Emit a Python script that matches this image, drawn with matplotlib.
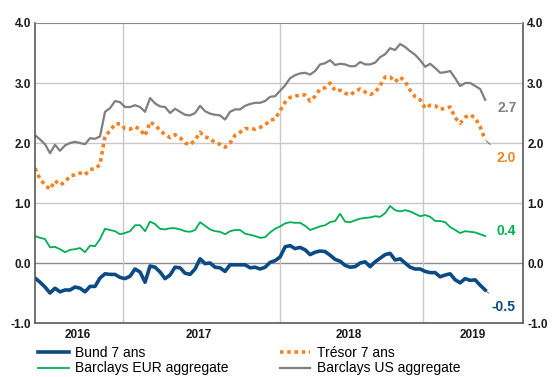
import numpy as np
import pandas as pd
import matplotlib
matplotlib.use("Agg")
import matplotlib.pyplot as plt

plt.rcParams['font.family'] = ['Liberation Sans', 'DejaVu Sans']

# two-weekly observations, Sept 2015 -> Feb 2019
dates = pd.date_range("2015-09-01", periods=91, freq="14D")

bund_7y = [-0.25, -0.32, -0.40, -0.50, -0.42, -0.48, -0.45, -0.45, -0.40, -0.42,
           -0.48, -0.39, -0.39, -0.25, -0.18, -0.19, -0.19, -0.24, -0.26, -0.22,
           -0.10, -0.15, -0.32, -0.05, -0.07, -0.15, -0.26, -0.20, -0.07, -0.08,
           -0.17, -0.19, -0.10, 0.07, -0.01, 0.00, -0.07, -0.08, -0.14, -0.03,
           -0.03, -0.03, -0.03, -0.08, -0.07, -0.10, -0.07, 0.01, 0.04, 0.10,
           0.27, 0.29, 0.24, 0.26, 0.22, 0.14, 0.18, 0.20, 0.19, 0.13,
           0.06, 0.03, -0.04, -0.07, -0.06, 0.00, 0.02, -0.06, 0.02, 0.08,
           0.14, 0.16, 0.05, 0.07, 0.00, -0.07, -0.10, -0.10, -0.14, -0.16,
           -0.16, -0.23, -0.20, -0.18, -0.28, -0.33, -0.26, -0.29, -0.28, -0.37,
           -0.45]

tresor_7y = [1.58, 1.40, 1.30, 1.23, 1.37, 1.30, 1.35, 1.45, 1.47, 1.50,
             1.47, 1.56, 1.57, 1.64, 2.12, 2.20, 2.32, 2.32, 2.24, 2.23,
             2.27, 2.23, 2.12, 2.35, 2.30, 2.21, 2.14, 2.09, 2.14, 2.09,
             2.00, 1.97, 2.05, 2.18, 2.10, 2.08, 2.00, 1.98, 1.93, 2.00,
             2.13, 2.18, 2.24, 2.24, 2.23, 2.26, 2.30, 2.38, 2.40, 2.54,
             2.68, 2.76, 2.78, 2.80, 2.80, 2.70, 2.78, 2.90, 2.92, 3.00,
             2.87, 2.88, 2.83, 2.80, 2.86, 2.90, 2.85, 2.81, 2.84, 2.96,
             3.10, 3.10, 3.02, 3.10, 3.02, 2.88, 2.77, 2.72, 2.58, 2.63,
             2.62, 2.56, 2.58, 2.60, 2.42, 2.33, 2.43, 2.47, 2.42, 2.27,
             2.05]

eur_agg = [0.45, 0.42, 0.40, 0.26, 0.27, 0.23, 0.18, 0.22, 0.23, 0.25,
           0.18, 0.29, 0.28, 0.40, 0.57, 0.55, 0.53, 0.48, 0.50, 0.53,
           0.63, 0.63, 0.53, 0.69, 0.65, 0.57, 0.56, 0.58, 0.58, 0.56,
           0.53, 0.52, 0.55, 0.68, 0.62, 0.56, 0.53, 0.52, 0.48, 0.53,
           0.55, 0.55, 0.49, 0.47, 0.45, 0.42, 0.43, 0.51, 0.57, 0.61,
           0.66, 0.68, 0.67, 0.67, 0.62, 0.55, 0.58, 0.61, 0.63, 0.68,
           0.70, 0.82, 0.69, 0.68, 0.71, 0.74, 0.75, 0.76, 0.78, 0.77,
           0.83, 0.95, 0.88, 0.86, 0.88, 0.86, 0.82, 0.78, 0.80, 0.77,
           0.70, 0.70, 0.68, 0.60, 0.55, 0.50, 0.53, 0.52, 0.51, 0.48,
           0.45]

us_agg = [2.13, 2.06, 1.98, 1.83, 1.97, 1.87, 1.96, 2.00, 2.02, 2.00,
          1.98, 2.08, 2.07, 2.11, 2.52, 2.58, 2.70, 2.68, 2.60, 2.60,
          2.63, 2.60, 2.52, 2.75, 2.66, 2.61, 2.60, 2.50, 2.57, 2.52,
          2.47, 2.46, 2.50, 2.62, 2.53, 2.49, 2.47, 2.46, 2.39, 2.52,
          2.56, 2.56, 2.62, 2.65, 2.67, 2.67, 2.70, 2.77, 2.78, 2.87,
          2.96, 3.08, 3.13, 3.16, 3.17, 3.14, 3.20, 3.31, 3.33, 3.38,
          3.30, 3.32, 3.31, 3.28, 3.28, 3.35, 3.31, 3.31, 3.34, 3.43,
          3.48, 3.58, 3.55, 3.65, 3.60, 3.53, 3.47, 3.38, 3.27, 3.32,
          3.25, 3.17, 3.18, 3.20, 3.08, 2.95, 3.00, 3.00, 2.95, 2.90,
          2.72]

year_ticks = pd.to_datetime(["2015-12-30", "2016-12-01", "2018-01-25", "2019-01-09"])
year_labels = ["2016", "2017", "2018", "2019"]
vgrid = pd.to_datetime(["2016-05-04", "2017-07-18", "2018-08-22"])

c_blue = "#0b4a84"
c_orange = "#f58220"
c_green = "#00b050"
c_gray = "#7f7f7f"

fig = plt.figure(figsize=(5.6, 3.77), dpi=100)
ax = fig.add_axes([0.0625, 0.1432, 0.8715, 0.7958])

for v in [1, 2, 3]:
    ax.axhline(v, color="#c8c8c8", lw=1.0, zorder=0)
ax.axhline(0, color="#8c8c8c", lw=1.0, zorder=0)
for d in vgrid:
    ax.axvline(d, color="#c8c8c8", lw=1.0, zorder=0)

ax.plot(dates, us_agg, color=c_gray, lw=1.6, label="Barclays US aggregate")
ax.plot(dates, eur_agg, color=c_green, lw=1.3, label="Barclays EUR aggregate")
ax.plot(dates, tresor_7y, color=c_orange, lw=2.6, linestyle=(0, (1, 1)),
        label="Trésor 7 ans")
ax.plot(dates, bund_7y, color=c_blue, lw=2.6, label="Bund 7 ans")

ax.set_xlim(pd.Timestamp("2015-09-01"), pd.Timestamp("2019-05-29"))
ax.set_ylim(-1, 4)
ax.set_yticks([-1, 0, 1, 2, 3, 4])
ax.set_yticklabels(["-1.0", "0.0", "1.0", "2.0", "3.0", "4.0"])
ax.set_xticks(year_ticks)
ax.set_xticklabels(year_labels)
ax.tick_params(axis="x", length=0, pad=4, labelsize=8.5)
ax.tick_params(axis="y", length=0, pad=3, labelsize=8.5, right=True, labelright=True)
for lab in ax.get_xticklabels() + ax.get_yticklabels():
    lab.set_fontweight("bold")
    lab.set_color("#1a1a1a")

for side in ["left", "right", "bottom"]:
    ax.spines[side].set_color("#595959")
    ax.spines[side].set_linewidth(1.2)
ax.spines["top"].set_color("#8c8c8c")

# end-of-series labels
def end_label(vals, text, color, dx, dy, leader=False):
    kw = {}
    if leader:
        kw["arrowprops"] = dict(arrowstyle="-", color="#595959", lw=0.6,
                                shrinkA=4, shrinkB=1)
    ax.annotate(text, xy=(dates[-1], vals[-1]), xytext=(dx, dy),
                textcoords="offset pixels", color=color, fontsize=10,
                fontweight="bold", ha="left", va="center", **kw)

end_label(us_agg, "2.7", c_gray, 12, -8)
end_label(tresor_7y, "2.0", c_orange, 11, -18, leader=True)
end_label(eur_agg, "0.4", c_green, 11, 5)
end_label(bund_7y, "-0.5", c_blue, 6, -17, leader=True)

h, l = ax.get_legend_handles_labels()
order = [3, 1, 2, 0]
fig.legend([h[i] for i in order], [l[i] for i in order], loc="upper left",
           bbox_to_anchor=(0.068, 0.082), ncol=2, frameon=False, fontsize=10,
           handlelength=2.2, handletextpad=0.45, columnspacing=3.7,
           labelspacing=0.1, borderpad=0, borderaxespad=0)

fig.savefig("out.png", dpi=100)
